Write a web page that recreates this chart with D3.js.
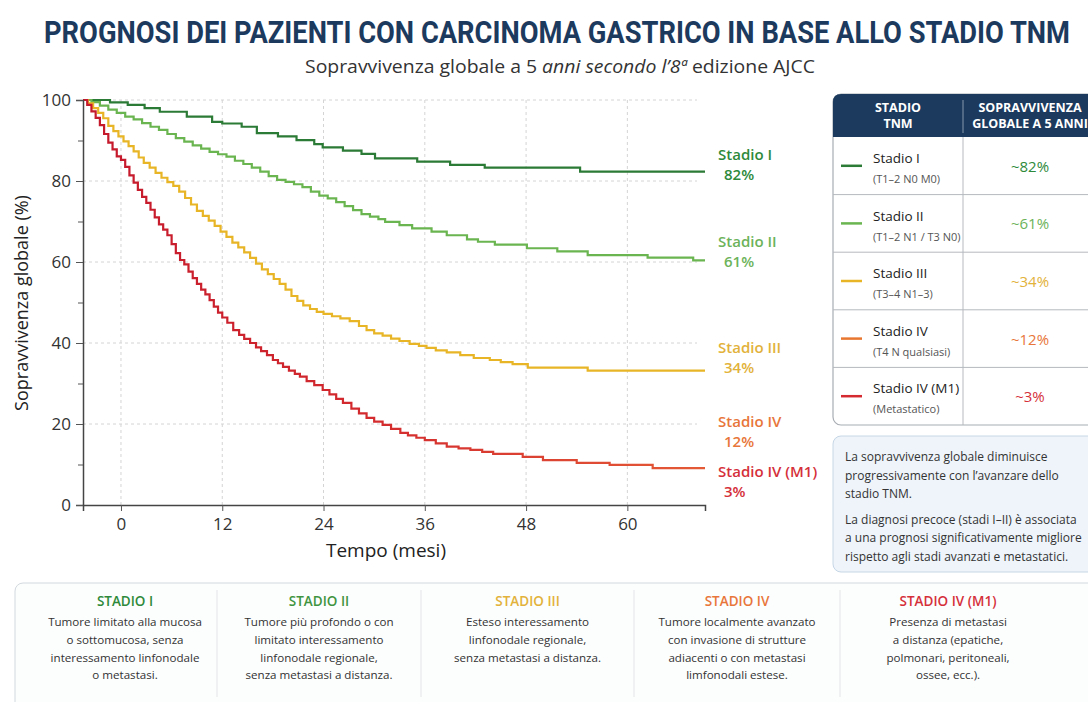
<!DOCTYPE html>
<html>
<head>
<meta charset="utf-8">
<script src="https://cdn.jsdelivr.net/npm/d3@7"></script>
<style>
  body { margin: 0; background: #fff; }
  svg { display: block; font-family: "Open Sans", "Noto Sans", sans-serif; }
</style>
</head>
<body>
<div id="main"></div>
<script>
// curve di sopravvivenza (mesi, %)
var stadioI = [[-4.5,100],[-1.3,99.4],[0.8,98.8],[2.8,98],[4.6,97.1],[7.8,95.9],[10.8,94.6],[12,94.2],[14.3,93.4],
  [16.1,91.8],[18.6,91],[20.8,90.1],[22.9,89.1],[23.9,88.3],[26.3,87.5],[28.5,86.7],[30.1,85.6],[35.1,84.8],
  [39,84],[43.1,83.3],[54.4,82.3],[69.2,82.3]];
var stadioII = [[-4.5,100],[-3.5,99.5],[-2.5,98.6],[-1.5,97.6],[-0.5,96.8],[0.5,95.9],[1.5,95.2],[2.5,94.3],
  [3.5,93.4],[4.5,92.6],[5.5,91.6],[6.5,90.6],[7.5,89.7],[8.5,88.8],[9.5,88],[10.5,87.2],[11.5,86.6],[12.5,86],
  [13.5,85],[14.5,84.2],[15.5,83.3],[16.5,82.3],[17.5,81.2],[18.5,80.3],[19.5,79.8],[20.5,79.2],[21.5,78.5],
  [22.5,77.4],[23.5,76.4],[24.5,75.7],[25.5,74.8],[26.5,73.8],[27.5,72.8],[28.5,71.8],[29.5,71.2],[30.5,70.6],
  [31.3,69.9],[33,69.1],[34.5,68.3],[36.8,67.5],[38.6,66.6],[41,65.6],[42.3,65],[44.3,64.3],[48.1,63.4],
  [51.7,62.6],[55.3,61.7],[62.4,61.1],[67.8,60.4],[69.2,60.4]];
var stadioIII = [[-4.5,100],[-3.9,99.2],[-3.3,98],[-2.7,96.8],[-2.1,95.5],[-1.5,93.6],[-0.9,92.3],[-0.3,91],
  [0.3,89.8],[0.9,88.6],[1.5,87.3],[2.1,85.8],[2.7,84.5],[3.4,83.3],[4.1,82],[4.8,80.8],[5.5,79.7],[6.2,78.8],
  [6.9,77.4],[7.6,75.8],[8.3,74.2],[9,72.6],[9.7,71.4],[10.4,70.2],[11.1,68.9],[11.8,67.5],[12.5,66.2],
  [13.2,64.8],[13.9,63.6],[14.6,62.4],[15.3,61],[16,59.6],[16.7,58.2],[17.4,57],[18.1,55.8],[18.8,54.6],
  [19.5,53.2],[20.2,51.6],[20.9,50.4],[21.6,49.3],[22.4,48.4],[23.2,47.7],[24,47.2],[25,46.6],[26,46.1],
  [27.1,45.4],[28.2,44.2],[29.1,43.2],[30,42.4],[31,41.8],[32,41.1],[33,40.5],[34.2,39.8],[35.3,39.3],
  [36.2,38.8],[37.3,38.2],[38.6,37.7],[40.2,37],[41.8,36.3],[43.7,35.8],[45,35.3],[46.4,34.8],[48.2,33.9],
  [55.3,33.2],[69.2,33.2]];
var stadioIV = [[-4.5,100],[-4,98.8],[-3.5,97.2],[-3,95.6],[-2.5,93.8],[-2,91.6],[-1.5,89.5],[-1,87.8],
  [-0.5,86.1],[0,85.2],[0.5,83.5],[1,81.4],[1.5,79.6],[2,77.8],[2.5,76.1],[3,74.6],[3.5,72.9],[4,71],[4.5,69.3],
  [5,68],[5.5,66.6],[6,64.4],[6.5,62.2],[7,60.5],[7.5,59.4],[8,57.6],[8.5,56],[9,54.6],[9.5,53.2],[10,52],
  [10.5,50.6],[11,49],[11.5,47.5],[12,46.3],[12.6,45],[13.3,43.2],[14,42],[14.6,41],[15.3,40],[16,38.9],
  [16.6,38],[17.3,37],[18,35.8],[18.6,35],[19.2,34.1],[19.9,33.2],[20.6,32.4],[21.2,31.7],[22,30.6],
  [22.9,29.6],[23.9,28.4],[24.7,27.3],[25.5,26.2],[26.3,25.2],[27.3,23.8],[28.2,22.6],[29.1,21.5],[30,20.6],
  [31,19.8],[32,18.8],[33.1,17.8],[34,17.2],[35,16.6],[36,16],[37.3,15.2],[38.6,14.4],[40,14],[41.4,13.6],
  [42.8,13.1],[44.1,12.6],[47.6,11.9],[50,11.1],[54,10.4],[57.9,9.9],[63,9.1],[69.2,9.1]];

var xTicks = [0, 12, 24, 36, 48, 60];
var yTicks = [0, 20, 40, 60, 80, 100];
var yMinor = [10, 30, 50, 70, 90];

var stageNames = ["Stadio I", "Stadio II", "Stadio III", "Stadio IV", "Stadio IV (M1)"];
var stageTnm = ["(T1\u20132 N0 M0)", "(T1\u20132 N1 / T3 N0)", "(T3\u20134 N1\u20133)", "(T4 N qualsiasi)", "(Metastatico)"];
var stageSurv = [82, 61, 34, 12, 3];
var stageHeads = ["STADIO I", "STADIO II", "STADIO III", "STADIO IV", "STADIO IV (M1)"];
var stageDesc = [
  ["Tumore limitato alla mucosa", "o sottomucosa, senza", "interessamento linfonodale", "o metastasi."],
  ["Tumore più profondo o con", "limitato interessamento", "linfonodale regionale,", "senza metastasi a distanza."],
  ["Esteso interessamento", "linfonodale regionale,", "senza metastasi a distanza."],
  ["Tumore localmente avanzato", "con invasione di strutture", "adiacenti o con metastasi", "limfonodali estese."],
  ["Presenza di metastasi", "a distanza (epatiche,", "polmonari, peritoneali,", "ossee, ecc.)."]
];
var noteLines = [
  ["La sopravvivenza globale diminuisce", "progressivamente con l\u2019avanzare dello", "stadio TNM."],
  ["La diagnosi precoce (stadi I\u2013II) è associata", "a una prognosi significativamente migliore", "rispetto agli stadi avanzati e metastatici."]
];

var app = {};
app.w = 1088;
app.h = 702;
app.plot = {left: 83, right: 705, top: 100, bottom: 505};
app.navy = "#1c3a5e";
app.lineColors = ["#2b7a35", "#6ab550", "#e8b526", "url(#redGrad)"];
app.textColors = ["#2e8a3a", "#6cb35a", "#e2b23a", "#e8763a", "#d5303a"];
app.headColors = ["#2e8a3a", "#3f9440", "#e2b23a", "#e8763a", "#d5303a"];
app.tableColors = ["#2b7a35", "#6ab550", "#e8b526", "#e8762f", "#d42a30"];

app.drawHeader = function (svg) {
  // titolo condensato: font più piccolo allungato in verticale
  svg.append("text")
    .attr("transform", "translate(557,43) scale(1,1.24)")
    .attr("text-anchor", "middle")
    .attr("textLength", 1026).attr("lengthAdjust", "spacingAndGlyphs")
    .style("font-family", "Roboto, sans-serif")
    .style("font-weight", 700).style("font-size", "25px")
    .attr("fill", app.navy)
    .text("PROGNOSI DEI PAZIENTI CON CARCINOMA GASTRICO IN BASE ALLO STADIO TNM");

  let sub = svg.append("text")
    .attr("x", 560).attr("y", 73)
    .attr("text-anchor", "middle")
    .attr("textLength", 510).attr("lengthAdjust", "spacingAndGlyphs")
    .style("font-size", "18px").attr("fill", "#333");
  sub.append("tspan").text("Sopravvivenza globale a 5 ");
  sub.append("tspan").style("font-style", "italic").text("anni secondo l\u20198ª");
  sub.append("tspan").text(" edizione AJCC");
}

app.drawChart = function (svg) {
  let p = app.plot;
  let x = d3.scaleLinear().domain([-4.5, 69.2]).range([p.left, p.right]);
  let y = d3.scaleLinear().domain([0, 100]).range([p.bottom, p.top]);

  let defs = svg.append("defs");
  let grad = defs.append("linearGradient").attr("id", "redGrad")
    .attr("gradientUnits", "userSpaceOnUse")
    .attr("x1", p.left).attr("x2", p.right).attr("y1", 0).attr("y2", 0);
  grad.append("stop").attr("offset", "0%").attr("stop-color", "#c4182c");
  grad.append("stop").attr("offset", "45%").attr("stop-color", "#d32a2e");
  grad.append("stop").attr("offset", "100%").attr("stop-color", "#e45a36");

  // griglia
  let grid = svg.append("g").attr("class", "grid");
  grid.selectAll("line.gx").data(xTicks).enter().append("line")
    .attr("x1", d => x(d)).attr("x2", d => x(d))
    .attr("y1", p.top).attr("y2", p.bottom)
    .attr("stroke", "#d4d4d4").attr("stroke-dasharray", "3,3");
  grid.selectAll("line.gy").data(yTicks.slice(1)).enter().append("line")
    .attr("x1", p.left).attr("x2", p.right - 8)
    .attr("y1", d => y(d)).attr("y2", d => y(d))
    .attr("stroke", "#d4d4d4").attr("stroke-dasharray", "3,3");

  // curve
  let line = d3.line().curve(d3.curveStepAfter)
    .x(d => x(d[0])).y(d => y(d[1]));
  svg.append("g").selectAll("path")
    .data([stadioI, stadioII, stadioIII, stadioIV])
    .enter().append("path")
    .attr("d", line)
    .attr("fill", "none")
    .attr("stroke", (d, i) => app.lineColors[i])
    .attr("stroke-width", 2.2);

  // assi
  let xAxis = svg.append("g")
    .attr("transform", "translate(0," + p.bottom + ")")
    .call(d3.axisBottom(x).tickValues(xTicks).tickSize(6).tickPadding(7));
  let yAxis = svg.append("g")
    .attr("transform", "translate(" + p.left + ",0)")
    .call(d3.axisLeft(y).tickValues(yTicks).tickSize(7).tickPadding(5));
  svg.append("g")
    .attr("transform", "translate(" + p.left + ",0)")
    .call(d3.axisLeft(y).tickValues(yMinor).tickSize(5).tickFormat(""))
    .call(g => g.select(".domain").remove());
  [xAxis, yAxis].forEach(function (g) {
    g.select(".domain").attr("stroke", "#444").attr("stroke-width", 1.5);
    g.selectAll("text").style("font-size", "17px").attr("fill", "#333")
      .style("font-family", "'Open Sans', sans-serif");
  });
  svg.selectAll(".tick line").attr("stroke", "#555");

  svg.append("text")
    .attr("x", 386).attr("y", 557)
    .attr("text-anchor", "middle")
    .style("font-size", "19px").style("font-weight", 500).attr("fill", "#222")
    .text("Tempo (mesi)");
  svg.append("text")
    .attr("transform", "translate(28,303) rotate(-90)")
    .attr("text-anchor", "middle")
    .style("font-size", "18px").style("font-weight", 500).attr("fill", "#222")
    .text("Sopravvivenza globale (%)");

  // etichette finali
  let labelY = [160, 247, 353, 427, 477];
  let lab = svg.append("g").selectAll("g").data(stageNames).enter().append("g");
  lab.append("text")
    .attr("x", 718).attr("y", (d, i) => labelY[i])
    .style("font-size", "15px").style("font-weight", 600)
    .attr("fill", (d, i) => app.textColors[i])
    .text(d => d);
  lab.append("text")
    .attr("x", 724).attr("y", (d, i) => labelY[i] + 20)
    .style("font-size", "15px").style("font-weight", 600)
    .attr("fill", (d, i) => app.textColors[i])
    .text((d, i) => stageSurv[i] + "%");
}

app.drawTable = function (svg) {
  let x0 = 833, x1 = 963, x2 = 1100, top = 94, headH = 43, rowH = 57.6;
  let bottom = top + headH + rowH * stageNames.length;
  let g = svg.append("g");

  g.append("rect")
    .attr("x", x0).attr("y", top).attr("width", x2 - x0).attr("height", bottom - top)
    .attr("rx", 8).attr("fill", "#fff").attr("stroke", "#a8adb3").attr("stroke-width", 1.2);
  g.append("path")
    .attr("d", "M" + x0 + "," + (top + headH) + "V" + (top + 8) + "Q" + x0 + "," + top + " " + (x0 + 8) + "," + top +
      "H" + x2 + "V" + (top + headH) + "Z")
    .attr("fill", app.navy);
  g.append("line")
    .attr("x1", x1).attr("x2", x1).attr("y1", top + 6).attr("y2", top + headH - 4)
    .attr("stroke", "#8797ad").attr("stroke-width", 1);
  g.append("line")
    .attr("x1", x1).attr("x2", x1).attr("y1", top + headH).attr("y2", bottom)
    .attr("stroke", "#b5b9be").attr("stroke-width", 1);

  let head = [["STADIO", "TNM"], ["SOPRAVVIVENZA", "GLOBALE A 5 ANNI"]];
  let hx = [(x0 + x1) / 2, 1030];
  head.forEach(function (lines, c) {
    lines.forEach(function (t, k) {
      g.append("text")
        .attr("x", hx[c]).attr("y", top + 18 + k * 16)
        .attr("text-anchor", "middle")
        .style("font-size", "12.5px").style("font-weight", 700).attr("fill", "#fff")
        .text(t);
    });
  });

  let rows = g.selectAll("g.row").data(stageNames).enter().append("g")
    .attr("transform", (d, i) => "translate(0," + (top + headH + i * rowH) + ")");
  rows.filter((d, i) => i > 0).append("line")
    .attr("x1", x0).attr("x2", x2).attr("y1", 0).attr("y2", 0)
    .attr("stroke", "#b5b9be");
  rows.append("line")
    .attr("x1", x0 + 8).attr("x2", x0 + 29).attr("y1", rowH / 2).attr("y2", rowH / 2)
    .attr("stroke", (d, i) => app.tableColors[i]).attr("stroke-width", 2.5);
  rows.append("text")
    .attr("x", x0 + 40).attr("y", 26)
    .style("font-size", "13.5px").style("font-weight", 500).attr("fill", "#222")
    .text(d => d);
  rows.append("text")
    .attr("x", x0 + 40).attr("y", 46)
    .style("font-size", "11px").attr("fill", "#555")
    .text((d, i) => stageTnm[i]);
  rows.append("text")
    .attr("x", 1030).attr("y", rowH / 2 + 6)
    .attr("text-anchor", "middle")
    .style("font-size", "15px").style("font-weight", 500)
    .attr("fill", (d, i) => app.textColors[i])
    .text((d, i) => "~" + stageSurv[i] + "%");
}

app.drawNote = function (svg) {
  svg.append("rect")
    .attr("x", 833).attr("y", 436).attr("width", 270).attr("height", 136)
    .attr("rx", 8).attr("fill", "#eef4fa").attr("stroke", "#c6d6e6");
  let yy = 461;
  noteLines.forEach(function (par) {
    par.forEach(function (t) {
      svg.append("text")
        .attr("x", 845).attr("y", yy)
        .style("font-size", "12px").attr("fill", "#333")
        .text(t);
      yy += 18.5;
    });
    yy += 7;
  });
}

app.drawStages = function (svg) {
  let colX = [15, 217, 421, 634, 840, 1056];
  let g = svg.append("g");
  g.append("rect")
    .attr("x", 15).attr("y", 583).attr("width", 1090).attr("height", 140)
    .attr("rx", 8).attr("fill", "#fcfdfd").attr("stroke", "#d3d9df");
  g.selectAll("line.div").data(colX.slice(1, 5)).enter().append("line")
    .attr("x1", d => d).attr("x2", d => d).attr("y1", 590).attr("y2", 697)
    .attr("stroke", "#e2e5e8");
  let cols = g.selectAll("g.col").data(stageHeads).enter().append("g")
    .attr("transform", (d, i) => "translate(" + ((colX[i] + colX[i + 1]) / 2 + (i === 0 ? 9 : 0)) + ",0)");
  cols.append("text")
    .attr("y", 606).attr("text-anchor", "middle")
    .style("font-size", "13.5px").style("font-weight", 600)
    .attr("fill", (d, i) => app.headColors[i])
    .text(d => d);
  cols.each(function (d, i) {
    d3.select(this).selectAll("text.desc").data(stageDesc[i]).enter().append("text")
      .attr("y", (t, k) => 626 + k * 17.8)
      .attr("text-anchor", "middle")
      .style("font-size", "11.6px").attr("fill", "#333")
      .text(t => t);
  });
}

app.run = function () {
  let svg = d3.select("#main").append("svg")
    .attr("width", app.w).attr("height", app.h);
  svg.append("rect").attr("width", app.w).attr("height", app.h).attr("fill", "#fff");
  app.drawHeader(svg);
  app.drawChart(svg);
  app.drawTable(svg);
  app.drawNote(svg);
  app.drawStages(svg);
}

window.onload = app.run;
</script>
</body>
</html>
